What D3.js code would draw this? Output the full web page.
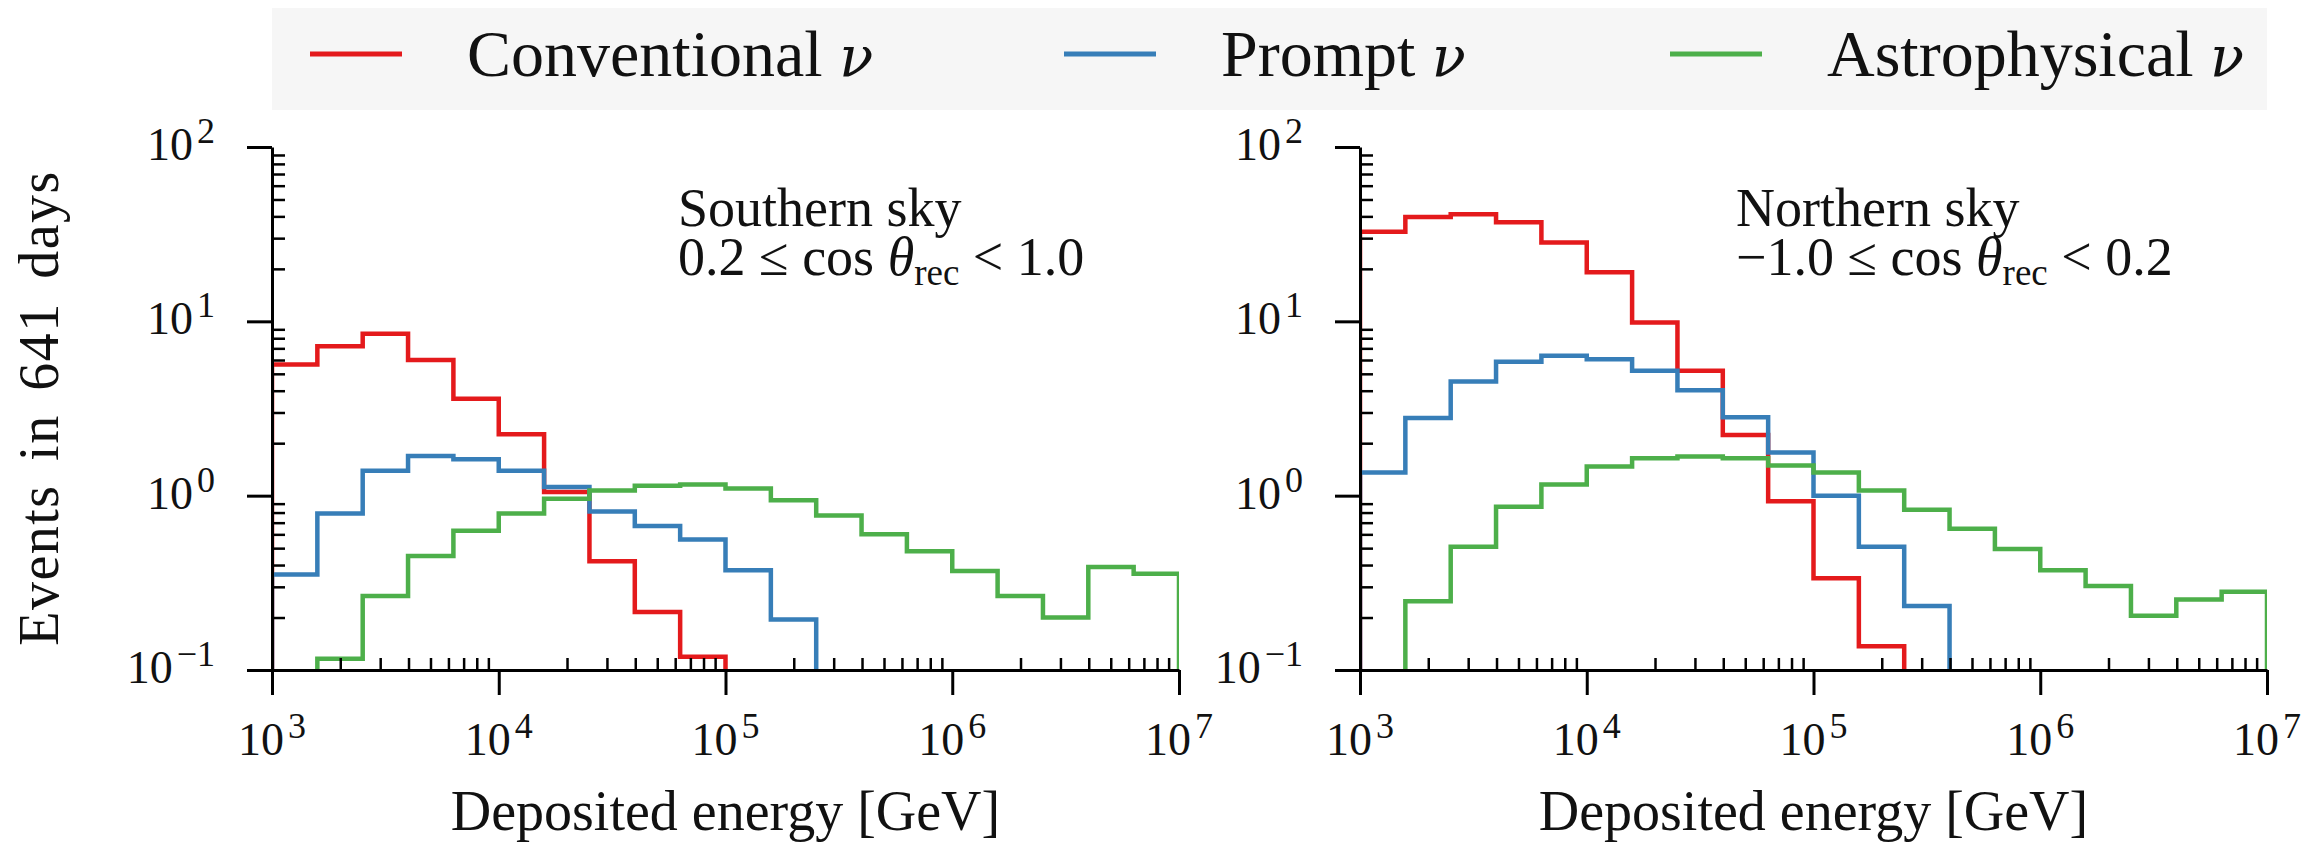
<!DOCTYPE html>
<html>
<head>
<meta charset="utf-8">
<script src="https://cdn.jsdelivr.net/npm/d3@7/dist/d3.min.js"></script>
<style>
body { margin: 0; background: #ffffff; }
text { font-family: "Liberation Serif", "DejaVu Serif", serif; fill: #111111; }
.greek { font-family: "DejaVu Serif", serif; font-style: italic; }
</style>
</head>
<body>
<svg id="chart" width="2316" height="849"></svg>
<script>
// Bin edges (log10 of deposited energy in GeV), 5 bins per decade
var binEdgeExps = [3.0, 3.2, 3.4, 3.6, 3.8, 4.0, 4.2, 4.4, 4.6, 4.8, 5.0,
                   5.2, 5.4, 5.6, 5.8, 6.0, 6.2, 6.4, 6.6, 6.8, 7.0];

// Southern sky (0.2 <= cos theta < 1.0), events per bin, 0 = empty bin
var southConventional = [5.65, 7.2, 8.5, 6.0, 3.6, 2.25, 1.05, 0.42, 0.215, 0.119,
                         0, 0, 0, 0, 0, 0, 0, 0, 0, 0];
var southPrompt = [0.353, 0.79, 1.39, 1.69, 1.62, 1.39, 1.12, 0.81, 0.67, 0.56,
                   0.373, 0.195, 0, 0, 0, 0, 0, 0, 0, 0];
var southAstro = [0, 0.116, 0.266, 0.45, 0.63, 0.79, 0.96, 1.07, 1.14, 1.16,
                  1.10, 0.94, 0.77, 0.60, 0.48, 0.37, 0.266, 0.20, 0.39, 0.356];

// Northern sky (-1.0 <= cos theta < 0.2)
var northConventional = [32.6, 39.7, 41.2, 37.0, 28.3, 19.1, 9.86, 5.2, 2.23, 0.93,
                         0.336, 0.137, 0, 0, 0, 0, 0, 0, 0, 0];
var northPrompt = [1.36, 2.79, 4.52, 5.86, 6.35, 6.06, 5.2, 4.02, 2.82, 1.77,
                   1.0, 0.51, 0.233, 0, 0, 0, 0, 0, 0, 0];
var northAstro = [0, 0.248, 0.51, 0.865, 1.16, 1.47, 1.64, 1.68, 1.64, 1.49,
                  1.36, 1.07, 0.83, 0.646, 0.495, 0.373, 0.303, 0.205, 0.254, 0.281];

// Tick labels (exponents of 10)
var xTickExps = [3, 4, 5, 6, 7];
var xTickLabels = ["3", "4", "5", "6", "7"];
var yTickExps = [-1, 0, 1, 2];
var yTickLabels = ["\u22121", "0", "1", "2"];

// Legend
var seriesNames = ["Conventional", "Prompt", "Astrophysical"];

//Colours
var red = "#e41a1c";
var blue = "#377eb8";
var green = "#4daf4a";
var seriesColours = [red, blue, green];

var svg = d3.select("#chart");

// plot area, shared by both panels
var plotTop = 147, plotBottom = 670;

function drawPanel(id, x0, x1, series, titleLines, noteX) {

    var xScale = d3.scaleLog().domain([1e3, 1e7]).range([x0, x1]);
    var yScale = d3.scaleLog().domain([0.1, 100]).range([plotBottom, plotTop]);

    svg.append("clipPath")
        .attr("id", id)
        .append("rect")
        .attr("x", x0)
        .attr("y", plotTop)
        .attr("width", x1 - x0)
        .attr("height", plotBottom - plotTop);

    var g = svg.append("g");

    // Step histogram lines
    var line = d3.line()
        .x(function (d) { return xScale(Math.pow(10, d[0])); })
        .y(function (d) { return yScale(d[1] > 0 ? d[1] : 0.01); });

    series.forEach(function (values, s) {
        var pts = [[binEdgeExps[0], 0]];
        values.forEach(function (v, i) {
            pts.push([binEdgeExps[i], v]);
            pts.push([binEdgeExps[i + 1], v]);
        });
        pts.push([binEdgeExps[binEdgeExps.length - 1], 0]);

        g.append("path")
            .attr("d", line(pts))
            .attr("clip-path", "url(#" + id + ")")
            .attr("fill", "none")
            .attr("stroke", seriesColours[s])
            .attr("stroke-width", 4.5)
            .attr("stroke-linejoin", "miter");
    });

    var minorX = xScale.ticks().filter(function (v) {
        return Math.abs(Math.log10(v) - Math.round(Math.log10(v))) > 1e-6;
    });
    var minorY = yScale.ticks().filter(function (v) {
        return Math.abs(Math.log10(v) - Math.round(Math.log10(v))) > 1e-6;
    });

    // Minor ticks point inwards
    g.append("g")
        .attr("transform", "translate(0," + plotBottom + ")")
        .call(d3.axisBottom(xScale).tickValues(minorX).tickSize(-12).tickFormat(""))
        .call(function (a) { a.select(".domain").remove(); })
        .selectAll("line").attr("stroke", "#000").attr("stroke-width", 2.5);

    g.append("g")
        .attr("transform", "translate(" + x0 + ",0)")
        .call(d3.axisLeft(yScale).tickValues(minorY).tickSize(-13).tickFormat(""))
        .call(function (a) { a.select(".domain").remove(); })
        .selectAll("line").attr("stroke", "#000").attr("stroke-width", 2.5);

    // Major ticks point outwards
    var xAxis = g.append("g")
        .attr("transform", "translate(0," + plotBottom + ")")
        .call(d3.axisBottom(xScale)
            .tickValues(xTickExps.map(function (e) { return Math.pow(10, e); }))
            .tickSize(25).tickSizeOuter(0).tickFormat(""));
    xAxis.select(".domain").attr("stroke", "#000").attr("stroke-width", 3);
    xAxis.selectAll(".tick line").attr("stroke", "#000").attr("stroke-width", 3);

    var yAxis = g.append("g")
        .attr("transform", "translate(" + x0 + ",0)")
        .call(d3.axisLeft(yScale)
            .tickValues(yTickExps.map(function (e) { return Math.pow(10, e); }))
            .tickSize(25).tickSizeOuter(0).tickFormat(""));
    yAxis.select(".domain").attr("stroke", "#000").attr("stroke-width", 3);
    yAxis.selectAll(".tick line").attr("stroke", "#000").attr("stroke-width", 3);

    // Tick labels as 10^n
    xTickExps.forEach(function (e, i) {
        var t = g.append("text")
            .attr("x", xScale(Math.pow(10, e)))
            .attr("y", 755)
            .attr("text-anchor", "middle")
            .style("font-size", "46px");
        t.append("tspan").text("10");
        t.append("tspan").attr("dx", 4).attr("dy", -17).style("font-size", "36px").text(xTickLabels[i]);
    });

    yTickExps.forEach(function (e, i) {
        var t = g.append("text")
            .attr("x", x0 - 57)
            .attr("y", yScale(Math.pow(10, e)) + 13)
            .attr("text-anchor", "end")
            .style("font-size", "46px");
        t.append("tspan").text("10");
        t.append("tspan").attr("dx", 4).attr("dy", -17).style("font-size", "36px").text(yTickLabels[i]);
    });

    // x axis label
    g.append("text")
        .attr("x", (x0 + x1) / 2)
        .attr("y", 830)
        .attr("text-anchor", "middle")
        .style("font-size", "56px")
        .text("Deposited energy [GeV]");

    // Sky region note
    g.append("text")
        .attr("x", noteX)
        .attr("y", 226)
        .style("font-size", "54px")
        .text(titleLines[0]);

    var note = g.append("text")
        .attr("x", noteX)
        .attr("y", 275)
        .style("font-size", "54px");
    note.append("tspan").text(titleLines[1] + " \u2264 cos ");
    note.append("tspan").style("font-style", "italic").text("\u03b8");
    note.append("tspan").attr("dy", 10).style("font-size", "37px").text("rec");
    note.append("tspan").attr("dy", -10).text(" < " + titleLines[2]);
}

drawPanel("clipSouth", 272, 1179, [southConventional, southPrompt, southAstro],
    ["Southern sky", "0.2", "1.0"], 678);
drawPanel("clipNorth", 1360, 2267, [northConventional, northPrompt, northAstro],
    ["Northern sky", "\u22121.0", "0.2"], 1736);

// y axis label
svg.append("text")
    .attr("transform", "translate(58,408) rotate(-90)")
    .attr("text-anchor", "middle")
    .style("font-size", "56px")
    .style("letter-spacing", "1.5px")
    .style("word-spacing", "8px")
    .text("Events in 641 days");

// Legend across the top
var legend = svg.append("g");
legend.append("rect")
    .attr("x", 272)
    .attr("y", 8)
    .attr("width", 2267 - 272)
    .attr("height", 102)
    .attr("fill", "#f6f6f6");

var legendLineX = [310, 1064, 1670];
seriesNames.forEach(function (name, i) {
    legend.append("line")
        .attr("x1", legendLineX[i])
        .attr("x2", legendLineX[i] + 92)
        .attr("y1", 54)
        .attr("y2", 54)
        .attr("stroke", seriesColours[i])
        .attr("stroke-width", 5);

    var t = legend.append("text")
        .attr("x", legendLineX[i] + 157)
        .attr("y", 76)
        .style("font-size", "66px");
    t.append("tspan").text(name + " ");
    t.append("tspan").attr("class", "greek").style("font-size", "56px").text("\u03bd");
});
</script>
</body>
</html>
